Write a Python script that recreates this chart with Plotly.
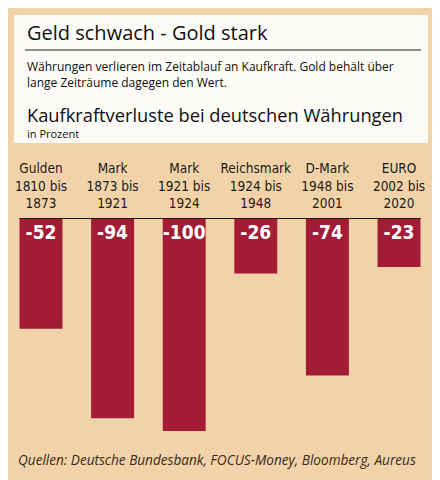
import plotly.graph_objects as go

# Data
currencies = ["Gulden", "Mark", "Mark", "Reichsmark", "D-Mark", "EURO"]
periods = ["1810 bis<br>1873", "1873 bis<br>1921", "1921 bis<br>1924",
           "1924 bis<br>1948", "1948 bis<br>2001", "2002 bis<br>2020"]
losses = [-52, -94, -100, -26, -74, -23]

labels = [c + "<br>" + p for c, p in zip(currencies, periods)]
xs = list(range(len(losses)))

bg = "#F2D3A9"
red = "#A21C36"

# the page body has an 8px margin, so the figure is a bit smaller
OFF = 8
W, H = 440 - OFF, 480 - OFF
L, R, T, B = 2, 2, 218 - OFF, 480 - 431
pw, ph = W - L - R, H - T - B


# window pixel -> paper coords
def px(x):
    return (x - OFF - L) / pw


def py(y):
    return (H - B - (y - OFF)) / ph


slot = 71.6
first = 41
x_lo = (OFF + L - first) / slot
x_hi = (OFF + W - R - first) / slot

fig = go.Figure()
fig.add_trace(go.Bar(
    x=xs, y=losses,
    marker=dict(color=red, line=dict(width=0)),
    text=[str(v) for v in losses],
    textposition="inside",
    insidetextanchor="start",
    textangle=0,
    constraintext="none",
    textfont=dict(family="DejaVu Sans Condensed", size=19, color="white"),
    texttemplate="<b>%{text}</b>",
    width=0.6,
))

# white header panel
fig.add_shape(type="rect", xref="paper", yref="paper",
              x0=px(14), x1=px(428), y0=py(143), y1=py(15),
              fillcolor="#FDFBF7", line=dict(width=0), layer="below")
fig.add_shape(type="line", xref="paper", yref="paper",
              x0=px(25), x1=px(421), y0=py(50), y1=py(50),
              line=dict(color="#222222", width=1.2))
# zero line
fig.add_shape(type="line", xref="x", yref="y",
              x0=-0.3, x1=5.3, y0=0, y1=0,
              line=dict(color="#1a1a1a", width=2))

fig.add_annotation(text="Geld schwach - Gold stark", xref="paper", yref="paper",
                   x=px(25), y=py(33), xanchor="left", yanchor="middle",
                   showarrow=False, font=dict(family="Open Sans", size=20, color="#111111"))
fig.add_annotation(text="Währungen verlieren im Zeitablauf an Kaufkraft. Gold behält über<br>lange Zeiträume dagegen den Wert.",
                   xref="paper", yref="paper", x=px(25), y=py(74), xanchor="left", yanchor="middle",
                   align="left", showarrow=False,
                   font=dict(family="Open Sans", size=12, color="#111111"))
fig.add_annotation(text="Kaufkraftverluste bei deutschen Währungen", xref="paper", yref="paper",
                   x=px(25), y=py(114), xanchor="left", yanchor="middle",
                   showarrow=False, font=dict(family="Open Sans", size=18.3, color="#111111"))
fig.add_annotation(text="in Prozent", xref="paper", yref="paper",
                   x=px(25), y=py(133), xanchor="left", yanchor="middle",
                   showarrow=False, font=dict(family="Open Sans", size=11, color="#111111"))
fig.add_annotation(text="<i>Quellen: Deutsche Bundesbank, FOCUS-Money, Bloomberg, Aureus</i>",
                   xref="paper", yref="paper", x=px(16), y=py(459), xanchor="left", yanchor="middle",
                   showarrow=False, font=dict(family="Open Sans", size=13.6, color="#3a2a1a"))

fig.update_layout(
    width=W, height=H,
    margin=dict(l=L, r=R, t=T, b=B),
    paper_bgcolor=bg, plot_bgcolor=bg,
    showlegend=False,
    xaxis=dict(side="top", tickmode="array", tickvals=xs, ticktext=labels,
               showgrid=False, zeroline=False, showline=False, ticks="",
               range=[x_lo, x_hi], fixedrange=True,
               tickfont=dict(family="DejaVu Sans Condensed", size=13.5, color="#1a1a1a"),
               ticklabelstandoff=6),
    yaxis=dict(range=[-100, 0], visible=False, fixedrange=True),
)

fig.write_html("out.html")
